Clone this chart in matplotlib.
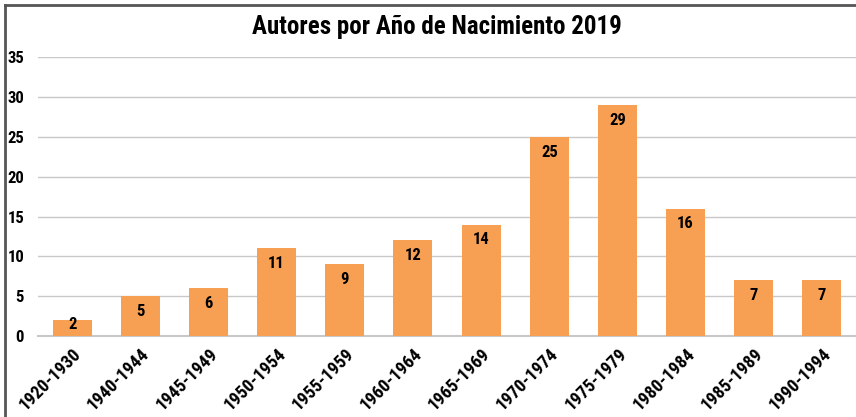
import matplotlib
matplotlib.use('Agg')
from matplotlib import pyplot as plt
from matplotlib.font_manager import fontManager

names = set(f.name for f in fontManager.ttflist)
fam = [f for f in ['Roboto Condensed', 'Liberation Sans Narrow', 'Open Sans', 'DejaVu Sans'] if f in names]
plt.rcParams['font.family'] = fam

periodos = ['1920-1930', '1940-1944', '1945-1949', '1950-1954', '1955-1959', '1960-1964',
            '1965-1969', '1970-1974', '1975-1979', '1980-1984', '1985-1989', '1990-1994']
autores = [2, 5, 6, 11, 9, 12, 14, 25, 29, 16, 7, 7]

fig = plt.figure(figsize=(8.56, 4.17), dpi=100)
ax = fig.add_axes([0.0444, 0.194, 0.9556, 0.669])

x = range(len(periodos))
bars = ax.bar(x, autores, width=0.57, color='#F79F53', zorder=3)
px_por_unidad = 279 / 35
for i, v in enumerate(autores):
    off = min(11, v * px_por_unidad * 0.72 - 8.5)
    ax.annotate(str(v), (i, v), xytext=(0, -off), textcoords='offset points',
                ha='center', va='center', fontsize=12, fontweight='bold', zorder=4)

ax.set_xlim(-0.5, len(periodos) - 0.5)
ax.set_ylim(0, 35)
ax.set_yticks(range(0, 36, 5))
ax.set_xticks(list(x))
ax.set_xticklabels(periodos, rotation=45, ha='right', rotation_mode='anchor',
                   fontsize=13, fontweight='bold')
for lab in ax.get_yticklabels():
    lab.set_fontweight('bold')
    lab.set_fontsize(12)
ax.tick_params(axis='y', length=0, pad=10)
ax.tick_params(axis='x', length=0, pad=6)
ax.grid(axis='y', color='#C8C8C8', linewidth=1, zorder=0)
for s in ['top', 'right', 'left']:
    ax.spines[s].set_visible(False)
ax.spines['bottom'].set_color('#C8C8C8')
ax.spines['bottom'].set_linewidth(1.5)

fig.text(0.51, 0.935, 'Autores por Año de Nacimiento 2019', ha='center', va='center',
         fontsize=18, fontweight='bold')

# marco del grafico (arriba e izquierda)
fig.add_artist(plt.Line2D([0.006, 1.0], [0.988, 0.988], color='#555555', linewidth=2))
fig.add_artist(plt.Line2D([0.006, 0.006], [0.0, 0.988], color='#555555', linewidth=2))

plt.savefig('out.png', dpi=100)
